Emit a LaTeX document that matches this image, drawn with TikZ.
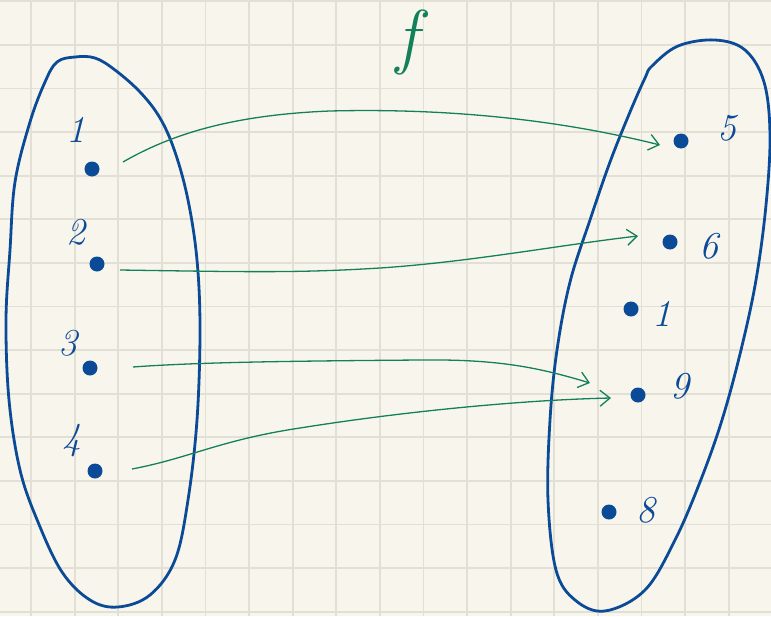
\documentclass[tikz,border=0pt]{standalone}
\usetikzlibrary{arrows.meta}
\definecolor{paper}{HTML}{F8F6EC}
\definecolor{gridc}{HTML}{E2E0D5}
\definecolor{ink}{HTML}{0B4A96}
\definecolor{grn}{HTML}{13805A}
\tikzset{
  setline/.style={draw=ink, line width=2.8pt, line join=round, line cap=round},
  pt/.style={circle, fill=ink, inner sep=0pt, minimum width=15pt},
  lbl/.style={text=ink, font=\fontsize{38}{38}\selectfont\itshape, inner sep=0pt},
  arr/.style={draw=grn, line width=1.3pt, -{Straight Barb[length=10pt,width=16pt,line width=1.3pt]}}
}
\begin{document}
\begin{tikzpicture}[x=1pt,y=-1pt]
\useasboundingbox (0,0) rectangle (771,616);
\fill[paper] (0,0) rectangle (771,616);
\foreach \k in {0,...,16} \draw[gridc, line width=1.8pt] ({31+43.6*\k},0) -- ({31+43.6*\k},616);
\foreach \k in {0,...,14} \draw[gridc, line width=1.8pt] (0,{1.3+43.6*\k}) -- (771,{1.3+43.6*\k});

% left set
\draw[setline] plot[smooth cycle, tension=0.6] coordinates {
 (57,62) (75,57) (95,58) (115,70) (140,92) (160,118) (175,152) (188,200) (197,260)
 (200,330) (197,420) (188,500) (175,560) (150,595) (118,607) (90,600) (62,572)
 (38,522) (20,470) (9,400) (6,320) (10,250) (15,182) (30,122) (45,82)};
% right set
\draw[setline] plot[smooth cycle, tension=0.6] coordinates {
 (652,66) (678,46) (715,40) (745,50) (764,82) (770,135) (766,205) (756,280)
 (741,350) (722,420) (700,482) (675,540) (645,590) (605,611) (575,600) (556,570)
 (548,500) (550,420) (557,350) (570,282) (590,220) (610,162) (630,112) (645,78)};

\node[text=grn, font=\fontsize{72}{72}\selectfont\itshape] (f) at (407,42) {f};

% domain
\node[pt] (a1) at (92,169) {};
\node[pt] (a2) at (97,264) {};
\node[pt] (a3) at (90,368) {};
\node[pt] (a4) at (95,471) {};
\node[lbl] (la1) at (76,130) {1};
\node[lbl] (la2) at (76,232) {2};
\node[lbl] (la3) at (68,343) {3};
\node[lbl] (la4) at (72,441) {4};

% codomain
\node[pt] (b5) at (681,141) {};
\node[pt] (b6) at (670,242) {};
\node[pt] (b1) at (631,309) {};
\node[pt] (b9) at (638,395) {};
\node[pt] (b8) at (609,512) {};
\node[lbl] (lb5) at (727,128) {5};
\node[lbl] (lb6) at (709,246) {6};
\node[lbl] (lb1) at (662,314) {1};
\node[lbl] (lb9) at (680,386) {9};
\node[lbl] (lb8) at (646,510) {8};

% connector ends
\coordinate (s1) at (123,162); \coordinate (e1) at (660,145);
\coordinate (s2) at (120,270); \coordinate (e2) at (638,236);
\coordinate (s3) at (133,367); \coordinate (e3) at (590,383);
\coordinate (s4) at (132,469); \coordinate (e4) at (611,398);

\draw[arr] (s1) .. controls (170,135) and (230,115) .. (330,111) .. controls (450,108) and (560,120) .. (e1);
\draw[arr] (s2) .. controls (250,272) and (300,273) .. (380,268) .. controls (470,262) and (560,245) .. (e2);
\draw[arr] (s3) .. controls (200,362) and (300,361) .. (420,360) .. controls (500,359) and (540,368) .. (e3);
\draw[arr] (s4) .. controls (190,458) and (220,440) .. (300,428) .. controls (400,412) and (520,400) .. (e4);
\end{tikzpicture}
\end{document}
